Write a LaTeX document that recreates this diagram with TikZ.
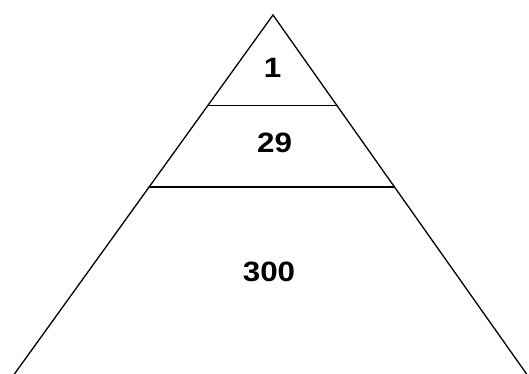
\documentclass[tikz,border=0pt]{standalone}
\usepackage{fontspec}
\setmainfont{Liberation Sans}
\usetikzlibrary{calc}
\begin{document}
\begin{tikzpicture}[x=1pt,y=-1pt,
  edge/.style={draw=black,line width=1.3pt,line cap=round},
  lvl/.style={anchor=base,inner sep=0pt,font=\fontsize{28}{30}\selectfont\bfseries,xscale=1.12,transform shape}]
\fill[white] (0,0) rectangle (529,374);
\useasboundingbox (0,0) rectangle (529,374);
\coordinate (apex) at (273,15);
\coordinate (bl) at (13,376);
\coordinate (br) at (528,376);
\coordinate (l1) at ($(apex)!0.2500!(bl)$);
\coordinate (r1) at ($(apex)!0.2500!(br)$);
\coordinate (l2) at ($(apex)!0.4764!(bl)$);
\coordinate (r2) at ($(apex)!0.4764!(br)$);
\draw[edge] (bl) -- (apex) -- (br);
\draw[edge] (l1) -- (r1);
\draw[edge] (l2) -- (r2);
\node[lvl] (n1) at (272.5,78) {1};
\node[lvl] (n29) at (274.5,153) {29};
\node[lvl] (n300) at (269,281) {300};
\end{tikzpicture}
\end{document}
